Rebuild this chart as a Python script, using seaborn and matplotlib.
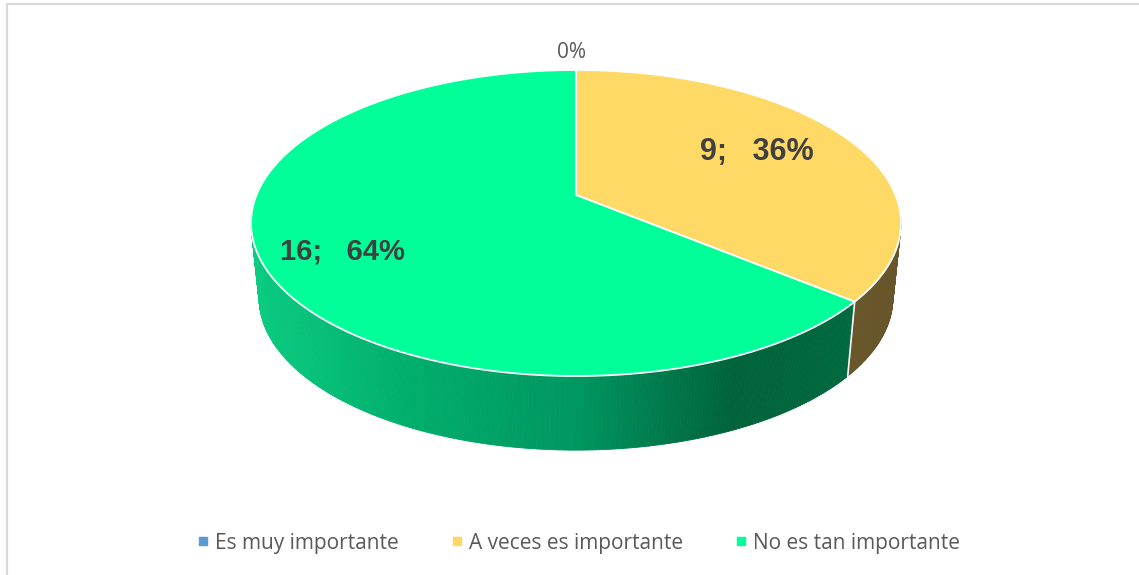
import numpy as np
import matplotlib
matplotlib.use("Agg")
import matplotlib.pyplot as plt
import seaborn as sns
from matplotlib.collections import PolyCollection
from matplotlib.path import Path
from matplotlib.transforms import Transform

categories = ["Es muy importante", "A veces es importante", "No es tan importante"]
counts = [0, 9, 16]
slice_labels = ["0%", "9;   36%", "16;   64%"]
slice_colors = ["#5B9BD5", "#FFD966", "#00FF99"]
side_colors = ["#2E4E6B", "#68562A", None]
green_side = ["#0ACB80", "#00AF6C", "#009660", "#00633B", "#00693F"]


class Perspective(Transform):
    # tilts the unit pie into picture pixels
    input_dims = 2
    output_dims = 2
    is_affine = False

    def __init__(self, sx=1.0, sy=1.0, dy=0.0):
        super().__init__()
        self.sx, self.sy, self.dy = sx, sy, dy

    def transform_non_affine(self, v):
        v = np.asarray(v, dtype=float)
        d = 1 + 0.183 * v[:, 1]
        return np.column_stack([576 + self.sx * 319.5 * v[:, 0] / d,
                                195 + self.dy - self.sy * 147.9 * v[:, 1] / d])

    def transform_path_non_affine(self, path):
        # flatten the curves first, the tilt is not affine
        big = Path(path.vertices * 1000, path.codes)
        pts = big.to_polygons(closed_only=True)[0] / 1000
        return Path(self.transform_non_affine(pts))


sns.set_theme(style="white")
plt.rcParams["font.family"] = ["Open Sans", "DejaVu Sans"]

fig = plt.figure(figsize=(11.39, 5.75), dpi=100, facecolor="white")
ax = fig.add_axes([0, 0, 1, 1])

wedges, _ = ax.pie(counts, colors=slice_colors, startangle=90, counterclock=False,
                   wedgeprops={"edgecolor": "white", "linewidth": 1.3})
ax.set_aspect("auto")
ax.set_xlim(0, 1139)
ax.set_ylim(575, 0)
ax.axis("off")

top = Perspective()
bottom = Perspective(sx=0.975, sy=0.995, dy=75)
for w in wedges:
    w.set_transform(top + ax.transData)
    w.set_zorder(3)

# side wall, cut in thin strips so the shading can run along it
theta = np.radians(np.linspace(-180, 0, 361))
rim = np.column_stack([np.cos(theta), np.sin(theta)])
upper = top.transform_non_affine(rim)
lower = bottom.transform_non_affine(rim)
quads = [[upper[i], upper[i + 1], lower[i + 1], lower[i]] for i in range(len(rim) - 1)]
split = 90 - 360 * counts[1] / sum(counts)
shades = sns.blend_palette(green_side, 256)
stops = np.array([255, 400, 576, 730, 860])
face = []
for i, q in enumerate(quads):
    deg = np.degrees(theta[i])
    if deg >= split:
        face.append(side_colors[1])
    else:
        pos = np.interp(q[0][0], stops, np.linspace(0, 255, len(stops)))
        face.append(shades[int(pos)])
ax.add_collection(PolyCollection(quads, facecolors=face, edgecolors=face, linewidths=0.6, zorder=1))
cut = np.array([[np.cos(np.radians(split)), np.sin(np.radians(split))]])
ax.plot([top.transform_non_affine(cut)[0, 0], bottom.transform_non_affine(cut)[0, 0]],
        [top.transform_non_affine(cut)[0, 1], bottom.transform_non_affine(cut)[0, 1]],
        color="white", lw=1.2, zorder=2)

ax.text(572, 53, slice_labels[0], ha="center", va="center", fontsize=15, color="#595959", zorder=4)
for label, x, y, size in [(slice_labels[1], 757, 152, 22), (slice_labels[2], 342, 251, 21)]:
    ax.text(x, y, label, ha="center", va="center", fontsize=size, fontweight="bold",
            family=["Liberation Sans", "DejaVu Sans"], color="#404040", zorder=4)

handles = [plt.Rectangle((0, 0), 1, 1, color=c) for c in slice_colors]
ax.legend(handles, categories, ncols=3, frameon=False, loc="center", bbox_to_anchor=(579.5 / 1139, 1 - 543 / 575),
          bbox_transform=fig.transFigure, fontsize=15, labelcolor="#595959",
          handlelength=0.385, handleheight=0.215, handletextpad=0.38, columnspacing=2.6)

# chart frame, open on the right
frame = dict(color="#D9D9D9", lw=1.5, zorder=5)
ax.plot([7, 7], [575, 4], **frame)
ax.plot([7, 1139], [4, 4], **frame)

fig.savefig("out.png", dpi=100)
